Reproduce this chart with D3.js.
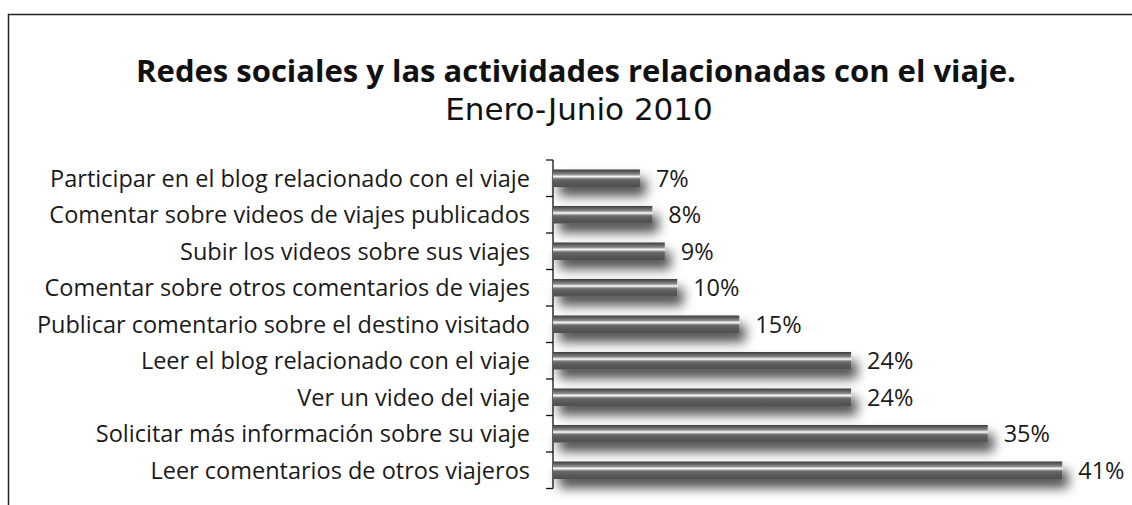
<!DOCTYPE html>
<html><head><meta charset="utf-8">
<script src="https://cdn.jsdelivr.net/npm/d3@7"></script>
<style>body{margin:0;background:#fff;}svg{display:block;}</style>
</head><body>
<svg id="c" width="1132" height="505"></svg>
<script>
const categories = [
  "Participar en el blog relacionado con el viaje",
  "Comentar sobre videos de viajes publicados",
  "Subir los videos sobre sus viajes",
  "Comentar sobre otros comentarios de viajes",
  "Publicar comentario sobre el destino visitado",
  "Leer el blog relacionado con el viaje",
  "Ver un video del viaje",
  "Solicitar más información sobre su viaje",
  "Leer comentarios de otros viajeros"
];
const values = [7, 8, 9, 10, 15, 24, 24, 35, 41];
const title = "Redes sociales y las actividades relacionadas con el viaje.";
const subtitle = "Enero-Junio 2010";

const svg = d3.select("#c");
const defs = svg.append("defs");
const grad = defs.append("linearGradient").attr("id","cyl").attr("x1",0).attr("y1",0).attr("x2",0).attr("y2",1);
[[0,"#3e3e3e"],[0.12,"#5c5c5c"],[0.28,"#8a8a8a"],[0.36,"#d8d8d8"],[0.41,"#ffffff"],[0.47,"#b0b0b0"],[0.56,"#6a6a6a"],[0.75,"#5a5a5a"],[1,"#4e4e4e"]]
  .forEach(([o,c])=>grad.append("stop").attr("offset",o).attr("stop-color",c));
const f = defs.append("filter").attr("id","sh").attr("x","-10%").attr("y","-150%").attr("width","130%").attr("height","450%");
f.append("feGaussianBlur").attr("in","SourceAlpha").attr("stdDeviation",6).attr("result","b");
f.append("feOffset").attr("in","b").attr("dx",6).attr("dy",9).attr("result","o");
f.append("feComponentTransfer").attr("in","o").attr("result","s").append("feFuncA").attr("type","linear").attr("slope",0.7);
const m = f.append("feMerge"); m.append("feMergeNode").attr("in","s"); m.append("feMergeNode").attr("in","SourceGraphic");

// frame
svg.append("rect").attr("x",8.5).attr("y",14.5).attr("width",1200).attr("height",600)
  .attr("fill","none").attr("stroke","#222").attr("stroke-width",1.5);

const x = d3.scaleLinear().domain([0,45]).range([553, 553+45*12.42]);
const y = d3.scaleBand().domain(categories).range([160, 488.5]).paddingInner(0.52).paddingOuter(0.26);

// title: size chosen so its natural width matches the reference
const t = svg.append("text").attr("x",576).attr("y",82).attr("text-anchor","middle")
  .attr("font-family","'Open Sans', sans-serif").attr("font-weight",700).attr("font-size",36).attr("fill","#111")
  .text(title);
const tw = t.node().getComputedTextLength();
t.attr("font-size", Math.min(36, 36*880/tw));

svg.append("text").attr("x",579).attr("y",120).attr("text-anchor","middle")
  .attr("font-family","'DejaVu Sans', sans-serif").attr("font-size",31).attr("fill","#111").text(subtitle);

// axis
const ax = svg.append("g").attr("transform","translate(553,0)");
const edges = categories.map(c=>y(c)-y.step()*y.paddingInner()/2).concat([488.5]);
edges[0]=160;
ax.append("line").attr("x1",0).attr("x2",0).attr("y1",160).attr("y2",488.5).attr("stroke","#111").attr("stroke-width",1.3);
ax.selectAll("line.t").data(edges).join("line").attr("class","t")
  .attr("x1",-7).attr("x2",0).attr("y1",d=>d).attr("y2",d=>d).attr("stroke","#111").attr("stroke-width",1.3);

// labels
const FS = 23.5;
svg.append("g").selectAll("text").data(categories).join("text")
  .attr("x",530).attr("y",d=>y(d)+y.bandwidth()/2).attr("dy","0.36em").attr("text-anchor","end")
  .attr("font-family","'Open Sans', sans-serif").attr("font-size",FS).attr("fill","#1a1a1a").text(d=>d);

// bars
svg.append("g").selectAll("rect").data(values).join("rect")
  .attr("x",x(0)).attr("y",(d,i)=>y(categories[i])).attr("height",y.bandwidth())
  .attr("width",d=>x(d)-x(0)).attr("fill","url(#cyl)").attr("filter","url(#sh)");

// value labels
svg.append("g").selectAll("text").data(values).join("text")
  .attr("x",d=>x(d)+16).attr("y",(d,i)=>y(categories[i])+y.bandwidth()/2).attr("dy","0.36em")
  .attr("font-family","'Open Sans', sans-serif").attr("font-size",FS).attr("fill","#1a1a1a").text(d=>d+"%");
</script>
</body></html>
